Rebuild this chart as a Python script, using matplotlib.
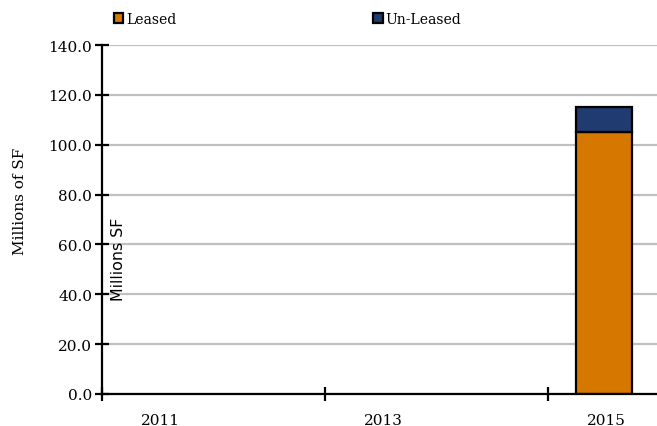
import matplotlib
matplotlib.use("Agg")
import matplotlib.pyplot as plt
import matplotlib.transforms as mtransforms
from matplotlib.patches import Patch
import numpy as np

# Data
years = ["2011", "2012", "2013", "2014", "2015"]
leased = [0, 0, 0, 0, 105.0]
un_leased = [0, 0, 0, 0, 10.0]
y_ticks = [0, 20, 40, 60, 80, 100, 120, 140]
shown_years = ["2011", "2013", "2015"]

ORANGE = "#D67800"
NAVY = "#1F3B6F"
GRID = "#C0C0C0"

plt.rcParams["font.family"] = ["DejaVu Serif"]

fig = plt.figure(figsize=(6.57, 4.27), dpi=100)
ax = fig.add_axes([102 / 657, 1 - 395 / 427, 557.5 / 657, (395 - 46) / 427])

x = np.arange(len(years))


def edges(values):
    return ["black" if v > 0 else "none" for v in values]


ax.bar(x, leased, width=0.5, color=ORANGE, edgecolor=edges(leased),
       linewidth=1.6, zorder=3)
ax.bar(x, un_leased, bottom=leased, width=0.5, color=NAVY,
       edgecolor=edges(un_leased), linewidth=1.6, zorder=3)

ax.set_xlim(-0.5, len(years) - 0.5)
ax.set_ylim(0, 140)

# y axis
ax.set_yticks(y_ticks)
ax.set_yticklabels([f"{v:.1f}" for v in y_ticks], fontsize=11)
ax.yaxis.grid(True, color=GRID, linewidth=1.6, zorder=0)
ax.set_axisbelow(True)
ax.set_ylabel("Millions of SF", fontsize=11)
ax.yaxis.set_label_coords(-0.134, 0.556)

# x axis: ticks on category boundaries, labels on every other category
label_pos = [years.index(y) for y in shown_years]
ax.set_xticks([-0.5] + [p - 0.5 for p in label_pos[1:]])
ax.set_xticklabels([])
ax.set_xticks(label_pos, minor=True)
ax.set_xticklabels(shown_years, minor=True, fontsize=11)
ax.tick_params(axis="x", which="minor", length=0, pad=14)
ax.tick_params(axis="both", which="major", direction="inout", length=10, width=1.6,
               color="black")
ax.tick_params(axis="y", pad=2)
shift = mtransforms.ScaledTranslation(3 / 100, 0, fig.dpi_scale_trans)
for lbl in ax.get_xticklabels(minor=True):
    lbl.set_transform(lbl.get_transform() + shift)

for side in ["top", "right"]:
    ax.spines[side].set_visible(False)
for side in ["left", "bottom"]:
    ax.spines[side].set_linewidth(1.6)
    ax.spines[side].set_zorder(4)

ax.text(0.029, 0.39, "Millions SF", transform=ax.transAxes, rotation=90,
        ha="center", va="center", fontsize=11.4, family="DejaVu Sans")

handles = [Patch(facecolor=ORANGE, edgecolor="black", linewidth=1.6, label="Leased"),
           Patch(facecolor=NAVY, edgecolor="black", linewidth=1.6, label="Un-Leased")]
fig.legend(handles=handles, loc="upper left", bbox_to_anchor=(104 / 657, 1 - 3 / 427),
           ncol=2, frameon=False, fontsize=10, handlelength=0.7, handleheight=0.7,
           handletextpad=0.2, columnspacing=14.15, borderaxespad=0.3)

fig.savefig("out.png", dpi=100)
